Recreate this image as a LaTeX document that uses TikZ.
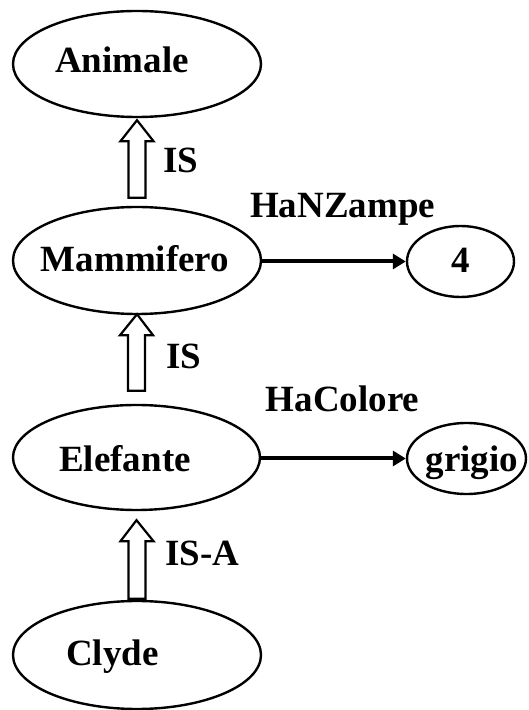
\documentclass[tikz,border=0pt]{standalone}
\usepackage{fontspec}
\setmainfont{Liberation Serif}
\usetikzlibrary{shapes.geometric,arrows.meta,calc}
\begin{document}
\begin{tikzpicture}[x=1pt,y=1pt,
  concept/.style={ellipse, draw, line width=2.4pt, inner sep=0pt},
  txt/.style={font=\bfseries\fontsize{37}{40}\selectfont, inner sep=0pt, anchor=base},
  rel/.style={line width=4pt, -{Triangle[length=13pt,width=15pt]}},
  hollow/.style={line width=2.2pt, draw, fill=white, line join=miter,
    to path={let \p1=(\tikztostart), \p2=(\tikztotarget) in
      (\x1-8.5pt,\y1) -- (\x1-8.5pt,\y2-21pt) -- (\x1-16.5pt,\y2-21pt) -- (\x2,\y2)
      -- (\x1+16.5pt,\y2-21pt) -- (\x1+8.5pt,\y2-21pt) -- (\x1+8.5pt,\y1) -- cycle}}]
\useasboundingbox (0,0) rectangle (528,710);

% concept ellipses
\node[concept, minimum width=248pt, minimum height=106pt] (animale) at (137,646) {};
\node[txt] (animaleT) at ([xshift=-15pt,yshift=-9pt]animale.center) {Animale};

\node[concept, minimum width=248pt, minimum height=107pt] (mammifero) at (137,449.5) {};
\node[txt] (mammiferoT) at ([xshift=-2pt,yshift=-11.5pt]mammifero.center) {Mammifero};

\node[concept, minimum width=247pt, minimum height=105pt] (elefante) at (136.5,252.5) {};
\node[txt] (elefanteT) at ([xshift=-11.5pt,yshift=-14.5pt]elefante.center) {Elefante};

\node[concept, minimum width=248pt, minimum height=108pt] (clyde) at (137,55) {};
\node[txt] (clydeT) at ([xshift=-24.5pt,yshift=-10pt]clyde.center) {Clyde};

\node[concept, minimum width=107pt, minimum height=71pt] (four) at (460.5,448.5) {};
\node[txt] (fourT) at ([yshift=-11.5pt]four.center) {4};

\node[concept, minimum width=119pt, minimum height=71pt] (grigio) at (466.5,251.5) {};
\node[txt] (grigioT) at ([xshift=5.5pt,yshift=-13.5pt]grigio.center) {grigio};

% hollow IS / IS-A arrows
\draw[hollow] ([yshift=8pt]mammifero.north) to ([yshift=-2pt]animale.south);
\draw[hollow] ([yshift=13pt]elefante.north) to ([yshift=1pt]mammifero.south);
\draw[hollow] ([yshift=1pt]clyde.north) to ([yshift=-9pt]elefante.south);

% property arrows
\draw[rel] (mammifero.east |- four.west) -- (four.west);
\draw[rel] (elefante.east |- grigio.west) -- (grigio.west);

% labels
\node[txt] (is1) at (180.5,537) {IS};
\node[txt] (is2) at (183.5,341) {IS};
\node[txt] (isa) at (202.5,144) {IS-A};
\node[txt] (hanzampe) at (342.5,492) {HaNZampe};
\node[txt] (hacolore) at (342.5,298) {HaColore};
\end{tikzpicture}
\end{document}
